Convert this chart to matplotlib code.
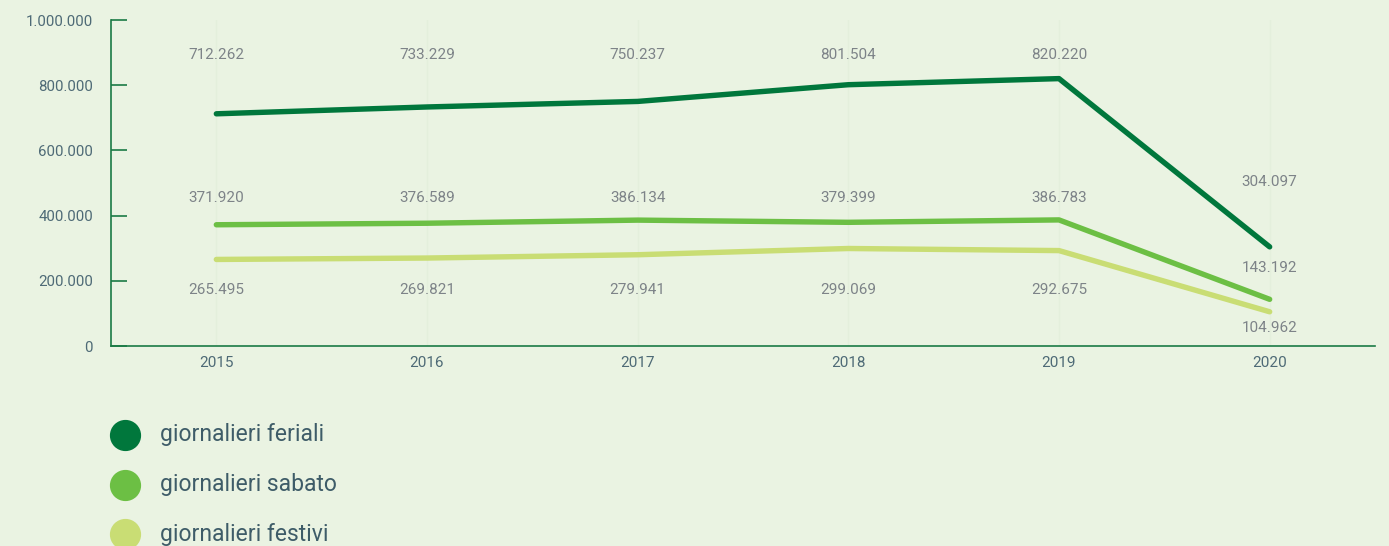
import matplotlib
matplotlib.use("Agg")
import matplotlib.pyplot as plt

years = ["2015", "2016", "2017", "2018", "2019", "2020"]
feriali = [712262, 733229, 750237, 801504, 820220, 304097]
sabato = [371920, 376589, 386134, 379399, 386783, 143192]
festivi = [265495, 269821, 279941, 299069, 292675, 104962]
series_names = ["giornalieri feriali", "giornalieri sabato", "giornalieri festivi"]
yticks = [0, 200000, 400000, 600000, 800000, 1000000]
ytick_labels = ["0", "200.000", "400.000", "600.000", "800.000", "1.000.000"]

colors = ["#00773C", "#6CBF44", "#C9DD74"]
bg = "#EAF3E2"
axis_col = "#1B7A45"
tick_text = "#4E6A76"
label_text = "#7D8388"

# label y positions (data units) for each series: (2015-2019, 2020)
label_pos = [(892000, 503000), (454000, 239000), (172000, 55000)]

def fmt(v):
    return f"{v:,}".replace(",", ".")

plt.rcParams["font.family"] = ["Roboto", "DejaVu Sans"]

W, H = 1389, 546
fig = plt.figure(figsize=(W / 100, H / 100), dpi=100, facecolor=bg)
ax = fig.add_axes([111 / W, 200 / H, (1375 - 111) / W, 326 / H])
ax.set_facecolor(bg)

x = list(range(len(years)))
for xi in x:
    ax.axvline(xi, color="#E4EFDC", lw=1, zorder=0)

for vals, c in zip([feriali, sabato, festivi], colors):
    ax.plot(x, vals, color=c, lw=3.9, solid_capstyle="round", solid_joinstyle="round", zorder=3)

for vals, (p_main, p_last) in zip([feriali, sabato, festivi], label_pos):
    for xi, v in zip(x, vals):
        yy = p_last if xi == len(x) - 1 else p_main
        ax.text(xi, yy, fmt(v), ha="center", va="center", fontsize=11, color=label_text, zorder=4)

ax.set_xlim(-0.5, 5.5)
ax.set_ylim(0, 1000000)
ax.set_xticks(x)
ax.set_xticklabels(years)
ax.set_yticks(yticks)
ax.set_yticklabels(ytick_labels)
ax.tick_params(axis="y", direction="in", length=11.5, width=1.2, color=axis_col,
               labelsize=10.8, labelcolor=tick_text, pad=13)
ax.tick_params(axis="x", length=0, labelsize=11, labelcolor=tick_text, pad=7.5)
for s in ["top", "right"]:
    ax.spines[s].set_visible(False)
for s in ["left", "bottom"]:
    ax.spines[s].set_color(axis_col)
    ax.spines[s].set_linewidth(1.2)

# legend drawn in pixel coordinates
lax = fig.add_axes([0, 0, 1, 1])
lax.set_xlim(0, W)
lax.set_ylim(H, 0)
lax.axis("off")
for i, (name, c) in enumerate(zip(series_names, colors)):
    yy = 435 + i * 49.5
    lax.scatter([125], [yy], s=460, color=c, clip_on=False)
    lax.text(160, yy, name, ha="left", va="center", fontsize=16.5, color="#3E5C68")

fig.savefig("out.png", dpi=100, facecolor=bg)
